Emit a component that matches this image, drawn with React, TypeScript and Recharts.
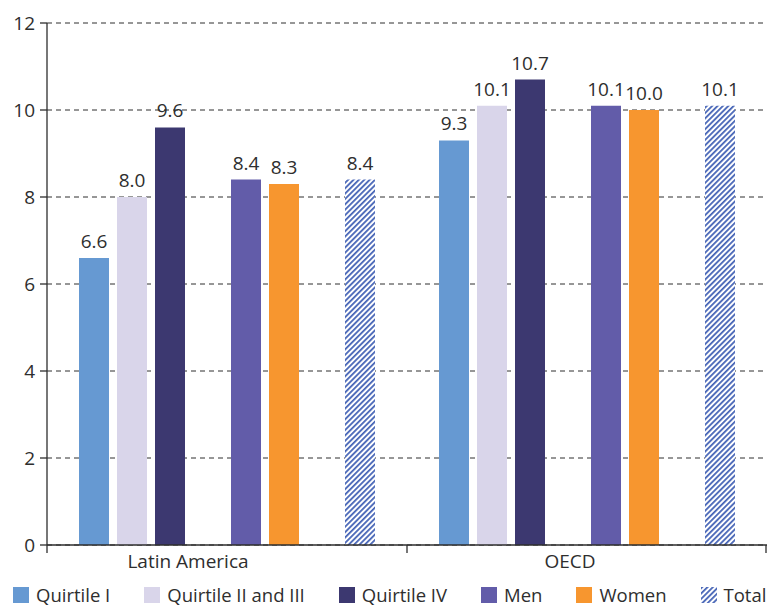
import { BarChart, Bar, XAxis, YAxis, CartesianGrid, LabelList } from 'recharts'

const regions = ['Latin America', 'OECD']
const quirtileI = [6.6, 9.3]
const quirtileIIandIII = [8.0, 10.1]
const quirtileIV = [9.6, 10.7]
const men = [8.4, 10.1]
const women = [8.3, 10.0]
const total = [8.4, 10.1]
const yTicks = [0, 2, 4, 6, 8, 10, 12]

const data = regions.map((region, i) => ({
  region,
  q1: quirtileI[i],
  q23: quirtileIIandIII[i],
  q4: quirtileIV[i],
  men: men[i],
  women: women[i],
  total: total[i],
}))

const FONT = '"Open Sans", sans-serif'
const INK = '#2e2e2e'
const HATCH = '#3d5db3'

const series = [
  { key: 'q1', name: 'Quirtile I', color: '#6699d2' },
  { key: 'q23', name: 'Quirtile II and III', color: '#d9d5ea' },
  { key: 'q4', name: 'Quirtile IV', color: '#3c3870' },
  { key: 'gap1', name: '', color: 'none' },
  { key: 'men', name: 'Men', color: '#625ca9' },
  { key: 'women', name: 'Women', color: '#f7962f' },
  { key: 'gap2', name: '', color: 'none' },
  { key: 'total', name: 'Total', color: 'url(#hatch)' },
]

// labels sit a little left of the band centre
const labelShift: Record<string, number> = { 'Latin America': -39, OECD: -17 }

const HatchPattern = ({ id }: { id: string }) => (
  <pattern id={id} patternUnits="userSpaceOnUse" width={3.8} height={3.8} patternTransform="rotate(45)">
    <rect width={3.8} height={3.8} fill="#ffffff" />
    <line x1={0.9} y1={0} x2={0.9} y2={3.8} stroke={HATCH} strokeWidth={1.7} />
  </pattern>
)

const RegionTick = (props: any) => {
  const { x, y, payload, index, visibleTicksCount } = props
  const half = payload.offset ?? 180
  const axisY = y - 8
  const last = index === visibleTicksCount - 1
  return (
    <g>
      <line x1={x - half} x2={x - half} y1={axisY} y2={axisY + 8} stroke={INK} strokeWidth={1.3} />
      {last && <line x1={x + half - 1} x2={x + half - 1} y1={axisY} y2={axisY + 8} stroke={INK} strokeWidth={1.3} />}
      <text x={x + (labelShift[payload.value] ?? 0)} y={y} dy={15} textAnchor="middle" fill={INK} fontSize={19} fontFamily={FONT}>
        {payload.value}
      </text>
    </g>
  )
}

const LegendRow = () => (
  <div
    style={{
      position: 'absolute',
      left: 13,
      top: 585,
      display: 'flex',
      gap: 34,
      whiteSpace: 'nowrap',
      fontFamily: FONT,
      fontSize: 18.5,
      color: INK,
      lineHeight: '20px',
    }}
  >
    {series.filter((s) => s.name).map((s) => (
      <div key={s.key} style={{ display: 'flex', alignItems: 'center', gap: 7, flexShrink: 0 }}>
        <svg width={16} height={16}>
          <defs>
            <HatchPattern id={`lg-${s.key}`} />
          </defs>
          <rect width={16} height={16} fill={s.key === 'total' ? `url(#lg-${s.key})` : s.color} />
        </svg>
        <span>{s.name}</span>
      </div>
    ))}
  </div>
)

export default function App() {
  return (
    <div style={{ position: 'absolute', left: 0, top: 0, width: 767, height: 607 }}>
      <BarChart width={767} height={607} data={data} margin={{ top: 23, right: 0, bottom: 0, left: 0 }} barSize={30} barGap={8}>
        <defs>
          <HatchPattern id="hatch" />
        </defs>
        <CartesianGrid vertical={false} stroke={INK} strokeDasharray="5 4" />
        <XAxis
          dataKey="region"
          height={62}
          tickSize={8}
          tickMargin={0}
          tickLine={false}
          axisLine={{ stroke: INK, strokeWidth: 1.3 }}
          tick={<RegionTick />}
          interval={0}
        />
        <YAxis
          width={47}
          domain={[0, 12]}
          ticks={yTicks}
          tickSize={7}
          tickMargin={5}
          axisLine={{ stroke: INK, strokeWidth: 1.3 }}
          tickLine={{ stroke: INK, strokeWidth: 1.3 }}
          tick={{ fill: INK, fontSize: 19, fontFamily: FONT }}
        />
        {series.map((s) => (
          <Bar key={s.key} dataKey={s.key} name={s.name} fill={s.color} isAnimationActive={false}>
            {s.name && (
              <LabelList
                dataKey={s.key}
                position="top"
                offset={10}
                fill={INK}
                fontSize={19}
                fontFamily={FONT}
                formatter={(v: any) => Number(v).toFixed(1)}
              />
            )}
          </Bar>
        ))}
      </BarChart>
      <LegendRow />
    </div>
  )
}
